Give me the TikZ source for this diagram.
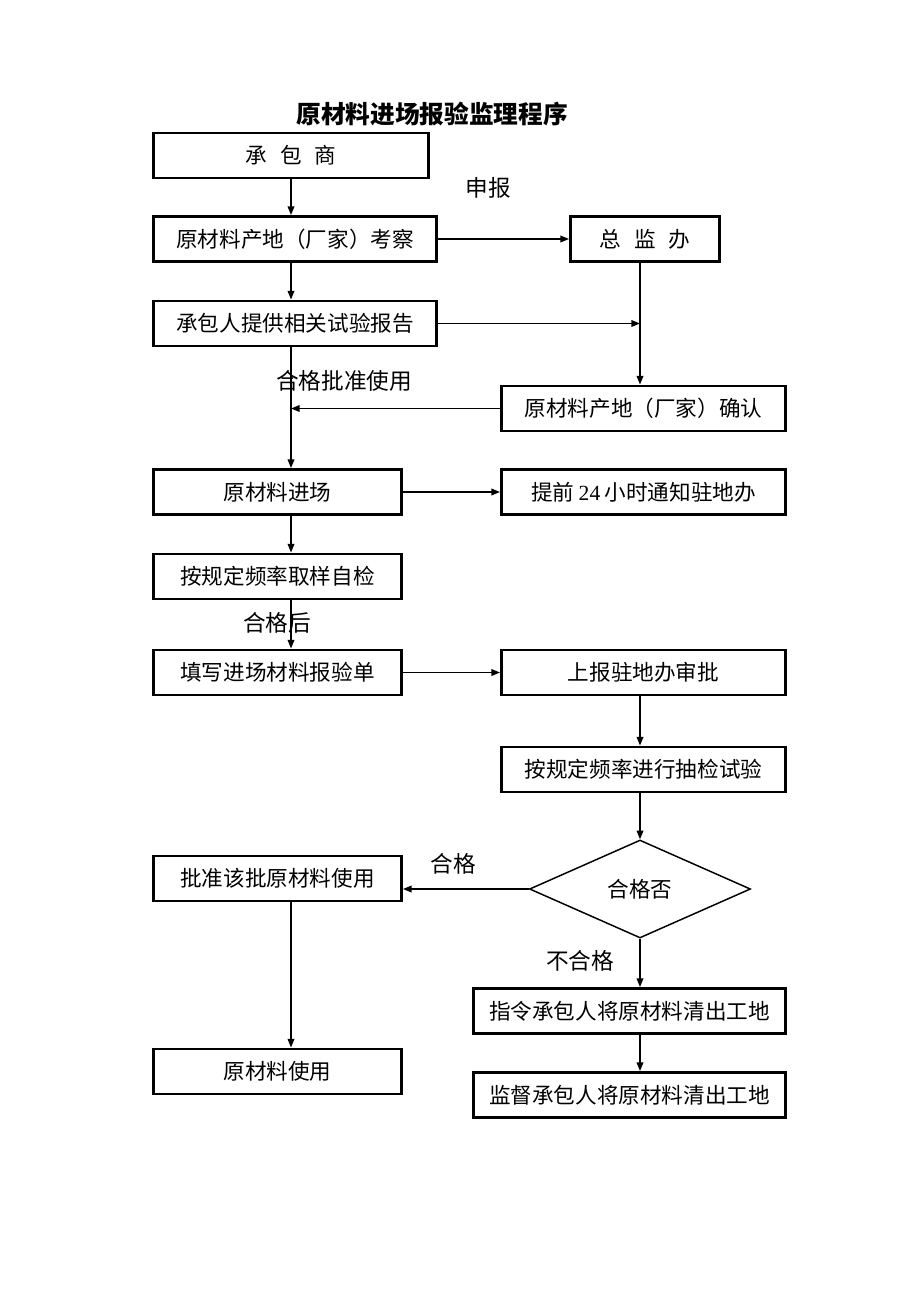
\documentclass[tikz,border=0pt]{standalone}
\usepackage{fontspec}
\setmainfont{Noto Sans CJK SC}
\newfontfamily\latinfont{Liberation Serif}
\usetikzlibrary{arrows.meta}
\usetikzlibrary{shapes.geometric}
\tikzset{
  box/.style={draw, line width=2.2pt, rectangle, minimum height=33.75pt,
    inner sep=0pt, font=\fontsize{16.2}{19}\selectfont},
  decide/.style={draw, line width=1.1pt, diamond, inner sep=0pt,
    font=\fontsize{16.2}{19}\selectfont},
  flow/.style={line width=1.1pt, -{Triangle[length=6.5pt, width=5pt]}},
  lbl/.style={font=\fontsize{17}{20}\selectfont, inner sep=0pt},
}

\begin{document}
\begin{tikzpicture}[x=0.75pt, y=-0.75pt]
  \useasboundingbox (0,0) rectangle (920,1302);

  \node [font=\fontsize{18.5}{22}\selectfont\bfseries] at (432,114) (title) {原材料进场报验监理程序};

  % the two vertical spines
  \coordinate (spine) at (291,0);
  \coordinate (rspine) at (640,0);

  % left column
  \node [box, minimum width=206.25pt] at (291,155.5) (cbs) {承\hspace{0.6em}包\hspace{0.6em}商};
  \node [box, minimum width=212.25pt] at (295,239) (kc) {原材料产地（厂家）考察};
  \node [box, minimum width=212.25pt] at (295,323.5) (bg) {承包人提供相关试验报告};
  \node [box, minimum width=186pt] at (277.5,492) (jc) {原材料进场};
  \node [box, minimum width=186pt] at (277.5,576.5) (zj) {按规定频率取样自检};
  \node [box, minimum width=186pt] at (277.5,672.5) (byd) {填写进场材料报验单};
  \node [box, minimum width=186pt] at (277.5,878.5) (pz) {批准该批原材料使用};
  \node [box, minimum width=186pt] at (277.5,1071.5) (sy) {原材料使用};

  % right column
  \node [box, minimum width=111.75pt] at (645,239) (zjb) {总\hspace{0.6em}监\hspace{0.6em}办};
  \node [box, minimum width=213pt] at (643.5,408.5) (qr) {原材料产地（厂家）确认};
  \node [box, minimum width=213pt] at (643.5,492) (tz) {提前\hspace{0.2em}{\latinfont 24}\hspace{0.2em}小时通知驻地办};
  \node [box, minimum width=213pt] at (643.5,672.5) (sb) {上报驻地办审批};
  \node [box, minimum width=213pt] at (643.5,769.5) (cj) {按规定频率进行抽检试验};
  \node [decide, minimum width=165.75pt, minimum height=73.5pt] at (640,889) (hgf) {合格否};
  \node [box, minimum width=234pt] at (629.5,1011) (zl) {指令承包人将原材料清出工地};
  \node [box, minimum width=234pt] at (629.5,1095) (jd) {监督承包人将原材料清出工地};

  % labels
  \node [lbl] at (488,188) (l1) {申报};
  \node [lbl] at (344,381) (l2) {合格批准使用};
  \node [lbl] at (277,623) (l3) {合格后};
  \node [lbl] at (453,864) (l4) {合格};
  \node [lbl] at (580,961) (l5) {不合格};

  % connectors
  \draw [flow] (cbs.south -| spine) -- (kc.north -| spine);
  \draw [flow] (kc.south -| spine) -- (bg.north -| spine);
  \draw [flow] (kc.east) -- (zjb.west);
  \draw [flow] (bg.east) -- (bg.east -| rspine);
  \draw [flow] (zjb.south -| rspine) -- (qr.north -| rspine);
  \draw [flow] (qr.west) -- (qr.west -| spine);
  \draw [flow] (bg.south -| spine) -- (jc.north -| spine);
  \draw [flow] (jc.east) -- (tz.west);
  \draw [flow] (jc.south -| spine) -- (zj.north -| spine);
  \draw [flow] (zj.south -| spine) -- (byd.north -| spine);
  \draw [flow] (byd.east) -- (sb.west);
  \draw [flow] (sb.south -| rspine) -- (cj.north -| rspine);
  \draw [flow] (cj.south -| rspine) -- (hgf.north);
  \draw [flow] (hgf.west) -- (hgf.west -| pz.east);
  \draw [flow] (pz.south -| spine) -- (sy.north -| spine);
  \draw [flow] (hgf.south) -- (zl.north -| rspine);
  \draw [flow] (zl.south -| rspine) -- (jd.north -| rspine);

\end{tikzpicture}
\end{document}
